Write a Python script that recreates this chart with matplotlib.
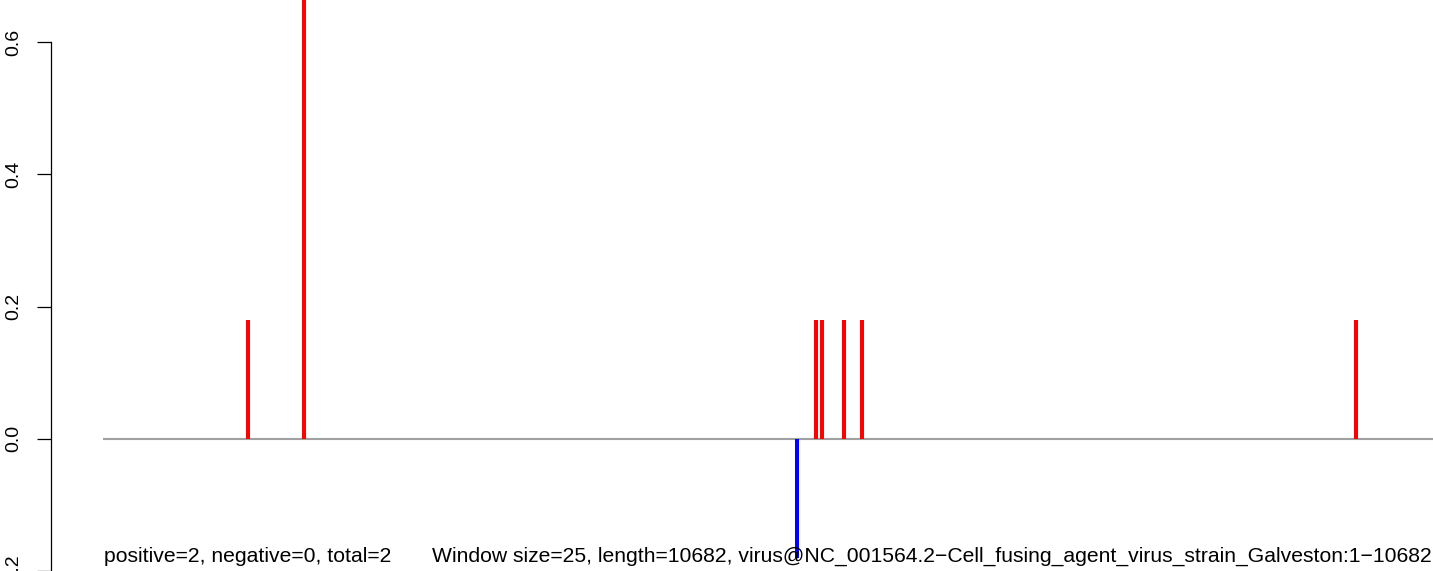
import numpy as np
import matplotlib
matplotlib.use("Agg")
import matplotlib.pyplot as plt

plt.rcParams['font.family'] = ['Liberation Sans', 'DejaVu Sans']

# genome length and window hits
seq_len = 10682
pos_hits = [1165, 1614, 5727, 5775, 5951, 6096, 10064]
pos_vals = [0.18, 0.72, 0.18, 0.18, 0.18, 0.18, 0.18]
neg_hits = [5574]
neg_vals = [-0.18]
y_ticks = [-0.2, 0.0, 0.2, 0.4, 0.6]
summary = "positive=2, negative=0, total=2"
info = "Window size=25, length=10682, virus@NC_001564.2\u2212Cell_fusing_agent_virus_strain_Galveston:1\u221210682"

W, H = 1433, 571
fig = plt.figure(figsize=(W / 100, H / 100), dpi=100)
ax = fig.add_axes([51 / W, 0, 1 - 51 / W, 1])

ax.set_xlim(-418, seq_len)
ax.set_ylim(-0.1925, 0.664)

ax.plot([0, seq_len], [0, 0], color='#a0a0a0', lw=1.5, solid_capstyle='butt', zorder=1)
ax.vlines(pos_hits, 0, pos_vals, colors='#ff0000', lw=2.9, zorder=2)
ax.vlines(neg_hits, neg_vals, 0, colors='#0000ff', lw=2.9, zorder=2)

for s in ['top', 'right', 'bottom']:
    ax.spines[s].set_visible(False)
ax.spines['left'].set_linewidth(0.9)
ax.spines['left'].set_bounds(-0.2, 0.6)
ax.set_xticks([])
ax.set_yticks(y_ticks)
ax.set_yticklabels([f"{v:.1f}" for v in y_ticks], rotation=90, va='center', fontsize=14)
ax.tick_params(axis='y', length=10, width=0.9, pad=10.5)

fig.text(104 / W, 1 - 562 / H, summary, fontsize=15.2, ha='left', va='baseline')
fig.text(1432 / W, 1 - 562 / H, info, fontsize=15.2, ha='right', va='baseline')

fig.savefig('out.png', dpi=100)
